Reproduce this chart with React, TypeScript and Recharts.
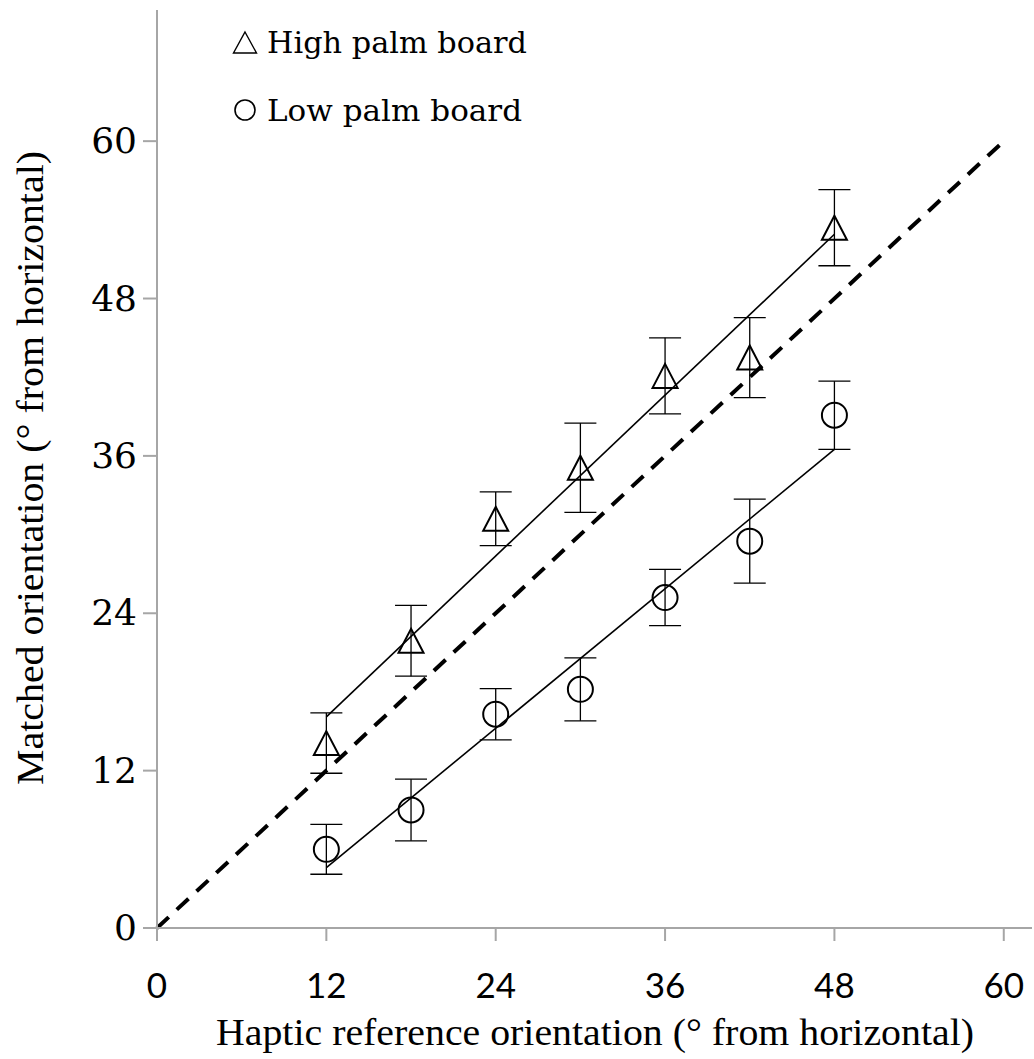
import {
  ScatterChart,
  Scatter,
  XAxis,
  YAxis,
  ErrorBar,
  ReferenceLine,
  Legend,
} from "recharts";

// reference orientations (deg)
const orientations = [12, 18, 24, 30, 36, 42, 48];

// high palm board: mean matched orientation and error
const highMeans = [14.1, 21.9, 31.2, 35.1, 42.1, 43.5, 53.4];
const highErrors = [2.3, 2.7, 2.05, 3.4, 2.9, 3.05, 2.9];

// low palm board
const lowMeans = [6.0, 9.0, 16.3, 18.2, 25.2, 29.5, 39.1];
const lowErrors = [1.9, 2.35, 1.95, 2.4, 2.15, 3.2, 2.6];

// fitted lines (end points) and veridical line
const highFit = [
  { x: 12, y: 16.1 },
  { x: 48, y: 52.9 },
];
const lowFit = [
  { x: 12, y: 4.6 },
  { x: 48, y: 36.5 },
];
const identity = [
  { x: 0, y: 0 },
  { x: 60, y: 60 },
];

const axisTicks = [0, 12, 24, 36, 48, 60];

const highData = orientations.map((x, i) => ({ x, y: highMeans[i], err: highErrors[i] }));
const lowData = orientations.map((x, i) => ({ x, y: lowMeans[i], err: lowErrors[i] }));

const SANS = "Lato, 'Open Sans', sans-serif";
const SERIF = "'DejaVu Serif', serif";
const TITLE_SERIF = "'Liberation Serif', serif";
const AXIS_GREY = "#a6a6a6";

const Triangle = (props: any) => {
  const { cx, cy } = props;
  if (cx == null || cy == null) return <g />;
  const pts = `${cx},${cy - 12} ${cx + 12.5},${cy + 12} ${cx - 12.5},${cy + 12}`;
  return <polygon points={pts} fill="none" stroke="#000" strokeWidth={2} />;
};

const Ring = (props: any) => {
  const { cx, cy } = props;
  if (cx == null || cy == null) return <g />;
  return <circle cx={cx} cy={cy} r={12.5} fill="none" stroke="#000" strokeWidth={2} />;
};

const XTick = (props: any) => {
  const { x, y, payload } = props;
  return (
    <text x={x} y={y + 55} textAnchor="middle" fontFamily={SANS} fontSize={35} fill="#000">
      {payload.value}
    </text>
  );
};

const YTick = (props: any) => {
  const { x, y, payload } = props;
  return (
    <text x={x - 4} y={y + 12} textAnchor="end" fontFamily={SERIF} fontSize={36} fill="#000">
      {payload.value}
    </text>
  );
};

const LegendBox = () => (
  <svg width={600} height={140} style={{ display: "block" }}>
    <polygon points="245,32 256.5,53 233.5,53" fill="none" stroke="#000" strokeWidth={1.4} />
    <text x={267} y={53} fontFamily={SERIF} fontSize={30} fill="#000" textLength={260} lengthAdjust="spacingAndGlyphs">
      High palm board
    </text>
    <circle cx={245} cy={110} r={10} fill="none" stroke="#000" strokeWidth={1.6} />
    <text x={267} y={121} fontFamily={SERIF} fontSize={30} fill="#000" textLength={255} lengthAdjust="spacingAndGlyphs">
      Low palm board
    </text>
  </svg>
);

export default function App() {
  return (
    <div style={{ position: "absolute", left: 0, top: 0, width: 1034, height: 1059, background: "#fff" }}>
      <ScatterChart width={1034} height={1059} margin={{ top: 10, right: 2, bottom: 0, left: 0 }}>
        <XAxis
          dataKey="x"
          type="number"
          domain={[0, 62]}
          ticks={axisTicks}
          allowDataOverflow
          height={131}
          axisLine={{ stroke: AXIS_GREY, strokeWidth: 2 }}
          tickLine={{ stroke: AXIS_GREY, strokeWidth: 2 }}
          tickSize={13}
          tick={<XTick />}
          label={{
            content: () => (
              <text
                x={595}
                y={1045}
                textAnchor="middle"
                fontFamily={TITLE_SERIF}
                fontSize={38}
                fill="#000"
                textLength={758}
                lengthAdjust="spacingAndGlyphs"
              >
                Haptic reference orientation (° from horizontal)
              </text>
            ),
          }}
        />
        <YAxis
          dataKey="y"
          type="number"
          domain={[0, 70]}
          ticks={axisTicks}
          allowDataOverflow
          width={157}
          axisLine={{ stroke: AXIS_GREY, strokeWidth: 2 }}
          tickLine={{ stroke: AXIS_GREY, strokeWidth: 2 }}
          tickSize={14}
          tick={<YTick />}
          label={{
            content: () => (
              <text
                x={43}
                y={468}
                transform="rotate(-90 43 468)"
                textAnchor="middle"
                fontFamily={TITLE_SERIF}
                fontSize={38}
                fill="#000"
                textLength={634}
                lengthAdjust="spacingAndGlyphs"
              >
                Matched orientation (° from horizontal)
              </text>
            ),
          }}
        />
        <Legend
          layout="vertical"
          align="center"
          verticalAlign="middle"
          wrapperStyle={{ left: 0, top: 0, width: 600, height: 140 }}
          content={() => <LegendBox />}
        />
        <ReferenceLine
          segment={identity}
          stroke="#000"
          strokeWidth={4}
          strokeDasharray="16 11"
          ifOverflow="visible"
        />
        <ReferenceLine segment={highFit} stroke="#000" strokeWidth={1.6} ifOverflow="visible" />
        <ReferenceLine segment={lowFit} stroke="#000" strokeWidth={1.6} ifOverflow="visible" />
        <Scatter name="High palm board" data={highData} shape={<Triangle />} isAnimationActive={false}>
          <ErrorBar dataKey="err" direction="y" width={16} stroke="#000" strokeWidth={1.3} />
        </Scatter>
        <Scatter name="Low palm board" data={lowData} shape={<Ring />} isAnimationActive={false}>
          <ErrorBar dataKey="err" direction="y" width={16} stroke="#000" strokeWidth={1.3} />
        </Scatter>
      </ScatterChart>
    </div>
  );
}
